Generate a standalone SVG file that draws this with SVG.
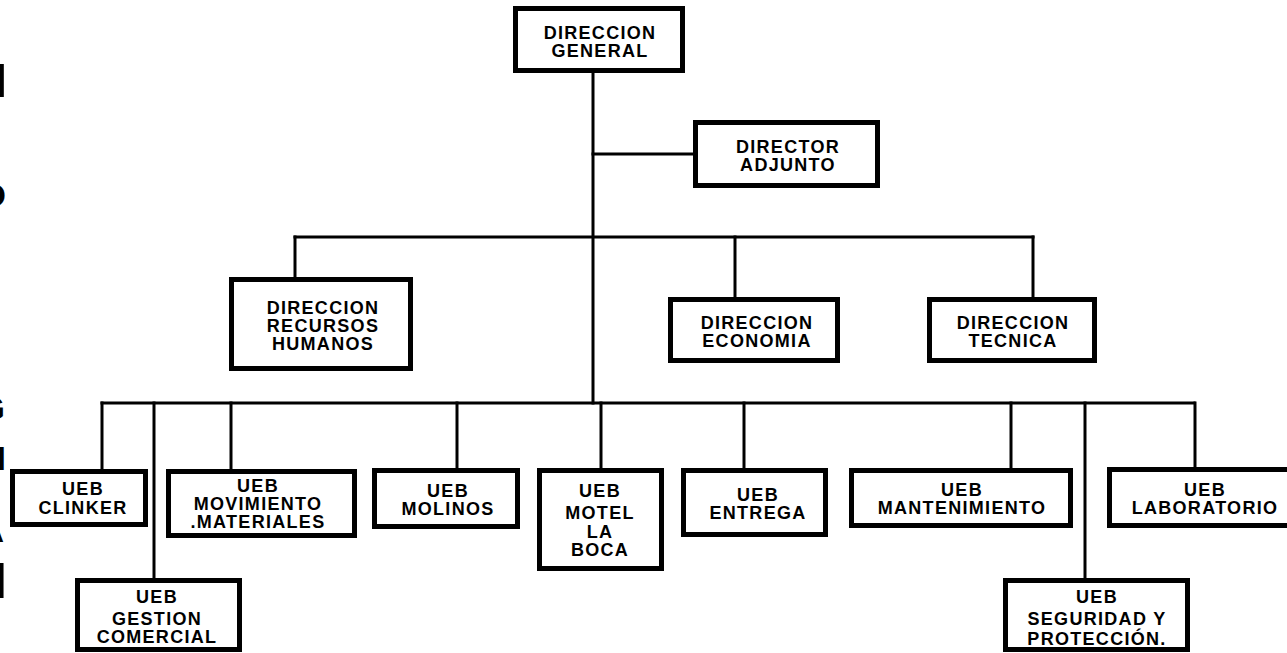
<svg xmlns="http://www.w3.org/2000/svg" width="1287" height="653" viewBox="0 0 1287 653">
<style>
.box{fill:#fff;stroke:#000;stroke-width:5}
.lbl{font-family:"Liberation Sans",Arial,sans-serif;font-weight:bold;font-size:18px;letter-spacing:1.3px;text-anchor:middle;fill:#000}
.con{stroke:#000;stroke-width:3;fill:none;stroke-linecap:square}
.frag{font-family:"Liberation Sans",Arial,sans-serif;font-weight:bold;fill:#000;text-anchor:end}
</style>
<rect width="1287" height="653" fill="#fff"/>
<g id="edge-fragments">
<text class="frag" x="7" y="97" font-size="49">I</text>
<text class="frag" x="6" y="207" font-size="34">O</text>
<text class="frag" x="5" y="420" font-size="34">G</text>
<text class="frag" x="6" y="470" font-size="34">I</text>
<text class="frag" x="4" y="542" font-size="34">A</text>
<text class="frag" x="7" y="598" font-size="50">I</text>
</g>
<g id="connectors">
<line class="con" x1="593" y1="73" x2="593" y2="403"/>
<line class="con" x1="593" y1="154" x2="693" y2="154"/>
<line class="con" x1="295" y1="237" x2="1033" y2="237"/>
<line class="con" x1="295" y1="237" x2="295" y2="276"/>
<line class="con" x1="735" y1="237" x2="735" y2="296"/>
<line class="con" x1="1033" y1="237" x2="1033" y2="296"/>
<line class="con" x1="102" y1="403" x2="1194" y2="403"/>
<line class="con" x1="102" y1="403" x2="102" y2="468"/>
<line class="con" x1="154" y1="403" x2="154" y2="578"/>
<line class="con" x1="231" y1="403" x2="231" y2="468"/>
<line class="con" x1="457" y1="403" x2="457" y2="467"/>
<line class="con" x1="601" y1="403" x2="601" y2="467"/>
<line class="con" x1="744" y1="403" x2="744" y2="467"/>
<line class="con" x1="1011" y1="403" x2="1011" y2="467"/>
<line class="con" x1="1085" y1="403" x2="1085" y2="578"/>
<line class="con" x1="1195" y1="403" x2="1195" y2="466"/>
</g>
<g id="direccion-general"><rect class="box" x="515.5" y="8.5" width="167" height="62"/>
<text class="lbl" x="600" y="39">DIRECCION</text><text class="lbl" x="600" y="57">GENERAL</text></g>
<g id="director-adjunto"><rect class="box" x="695.5" y="122.5" width="182" height="63"/>
<text class="lbl" x="788" y="153">DIRECTOR</text><text class="lbl" x="788" y="171">ADJUNTO</text></g>
<g id="direccion-rrhh"><rect class="box" x="231.5" y="279.5" width="179" height="89"/>
<text class="lbl" x="323" y="314">DIRECCION</text><text class="lbl" x="323" y="332">RECURSOS</text><text class="lbl" x="323" y="350">HUMANOS</text></g>
<g id="direccion-economia"><rect class="box" x="670.5" y="299.5" width="167" height="61"/>
<text class="lbl" x="757" y="329">DIRECCION</text><text class="lbl" x="757" y="347">ECONOMIA</text></g>
<g id="direccion-tecnica"><rect class="box" x="929.5" y="299.5" width="165" height="61"/>
<text class="lbl" x="1013" y="329">DIRECCION</text><text class="lbl" x="1013" y="347">TECNICA</text></g>
<g id="ueb-clinker"><rect class="box" x="12.5" y="471.5" width="133" height="53"/>
<text class="lbl" x="83" y="495">UEB</text><text class="lbl" x="83" y="514">CLINKER</text></g>
<g id="ueb-movimiento"><rect class="box" x="168.5" y="471.5" width="186" height="64"/>
<text class="lbl" x="258" y="492">UEB</text><text class="lbl" x="258" y="510">MOVIMIENTO</text><text class="lbl" x="258" y="528">.MATERIALES</text></g>
<g id="ueb-gestion"><rect class="box" x="77.5" y="580.5" width="162" height="69"/>
<text class="lbl" x="157" y="603">UEB</text><text class="lbl" x="157" y="625">GESTION</text><text class="lbl" x="157" y="643">COMERCIAL</text></g>
<g id="ueb-molinos"><rect class="box" x="374.5" y="470.5" width="143" height="56"/>
<text class="lbl" x="448" y="497">UEB</text><text class="lbl" x="448" y="515">MOLINOS</text></g>
<g id="ueb-motel"><rect class="box" x="539.5" y="470.5" width="122" height="98"/>
<text class="lbl" x="600" y="497">UEB</text><text class="lbl" x="600" y="519">MOTEL</text><text class="lbl" x="600" y="538">LA</text><text class="lbl" x="600" y="556">BOCA</text></g>
<g id="ueb-entrega"><rect class="box" x="683.5" y="470.5" width="142" height="64"/>
<text class="lbl" x="758" y="501">UEB</text><text class="lbl" x="758" y="519">ENTREGA</text></g>
<g id="ueb-mantenimiento"><rect class="box" x="851.5" y="470.5" width="219" height="55"/>
<text class="lbl" x="962" y="496">UEB</text><text class="lbl" x="962" y="514">MANTENIMIENTO</text></g>
<g id="ueb-seguridad"><rect class="box" x="1005.5" y="580.5" width="182" height="69"/>
<text class="lbl" x="1097" y="603">UEB</text><text class="lbl" x="1097" y="625">SEGURIDAD Y</text><text class="lbl" x="1097" y="645">PROTECCIÓN.</text></g>
<g id="ueb-laboratorio"><rect class="box" x="1109.5" y="469.5" width="188" height="56"/>
<text class="lbl" x="1205" y="496">UEB</text><text class="lbl" x="1205" y="514">LABORATORIO</text></g>
</svg>
